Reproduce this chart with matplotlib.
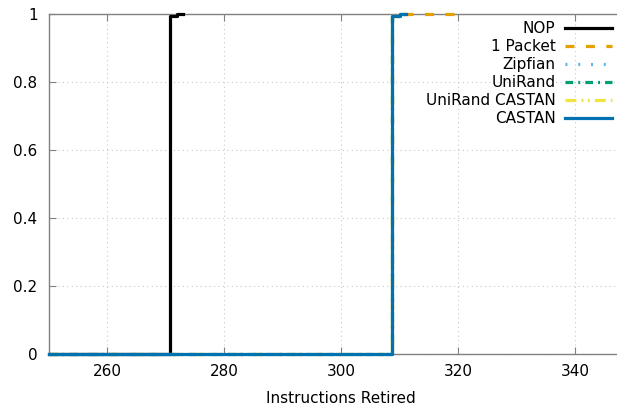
import matplotlib
matplotlib.use("Agg")
import matplotlib.pyplot as plt

# CDF of instructions retired per packet (step data)
nop_x = [250, 270.8, 272, 273]
nop_y = [0, 0.995, 1.0, 1.0]

packet_x = [250, 308.6, 310, 321]
packet_y = [0, 0.995, 1.0, 1.0]

zipf_x = [250, 308.6, 310, 311]
zipf_y = [0, 0.995, 1.0, 1.0]

unirand_x = [250, 308.6, 310, 311]
unirand_y = [0, 0.995, 1.0, 1.0]

unicastan_x = [250, 308.6, 310, 311]
unicastan_y = [0, 0.995, 1.0, 1.0]

castan_x = [250, 308.6, 310, 311]
castan_y = [0, 0.995, 1.0, 1.0]

labels = ["NOP", "1 Packet", "Zipfian", "UniRand", "UniRand CASTAN", "CASTAN"]
xticks = [260, 280, 300, 320, 340]
yticks = [0, 0.2, 0.4, 0.6, 0.8, 1]
ytick_labels = ["0", "0.2", "0.4", "0.6", "0.8", "1"]

fig = plt.figure(figsize=(6.17, 4.09), dpi=100)
# axes run past the right edge, the reference is cropped there
ax = fig.add_axes([48.7 / 617, 1 - 354 / 409, 585 / 617, 340 / 409])

lw = 2.3
kw = dict(drawstyle="steps-post", lw=lw, clip_on=False, zorder=3)
ax.plot(nop_x, nop_y, color="black", label=labels[0], **kw)
ax.plot(packet_x, packet_y, color="#e69f00", dashes=(2.8, 3.6), label=labels[1], **kw)
ax.plot(zipf_x, zipf_y, color="#56b4e9", dashes=(0.6, 3.4), label=labels[2], **kw)
ax.plot(unirand_x, unirand_y, color="#009e73", dashes=(2.4, 1.6, 0.6, 1.6),
        label=labels[3], **kw)
ax.plot(unicastan_x, unicastan_y, color="#f0e442", dashes=(3.4, 1.6, 0.6, 1.4, 0.6, 1.6),
        label=labels[4], **kw)
ax.plot(castan_x, castan_y, color="#0072b2", label=labels[5], **kw)

ax.set_xlim(250, 350)
ax.set_ylim(0, 1)
ax.set_xticks(xticks)
ax.set_yticks(yticks)
ax.set_yticklabels(ytick_labels)
ax.grid(True, color="#c8c8c8", linestyle=(0, (1, 3)), lw=0.8)
ax.set_axisbelow(True)

for s in ax.spines.values():
    s.set_color("#808080")
    s.set_linewidth(1.0)

ax.tick_params(axis="both", direction="in", length=5, color="#808080",
               labelsize=11, top=True, right=True)
ax.tick_params(axis="x", pad=7)
ax.tick_params(axis="y", pad=8)
ax.set_xlabel("Instructions Retired", fontsize=11, labelpad=9)

leg = ax.legend(loc="upper right", bbox_to_anchor=(612 / 617, 1 - 21 / 409),
                bbox_transform=fig.transFigure, frameon=False, markerfirst=False,
                fontsize=11, handlelength=3.1, handletextpad=0.6,
                labelspacing=0.2, borderaxespad=0, borderpad=0)
for t in leg.get_texts():
    t.set_ha("right")

fig.savefig("out.png", dpi=100)
